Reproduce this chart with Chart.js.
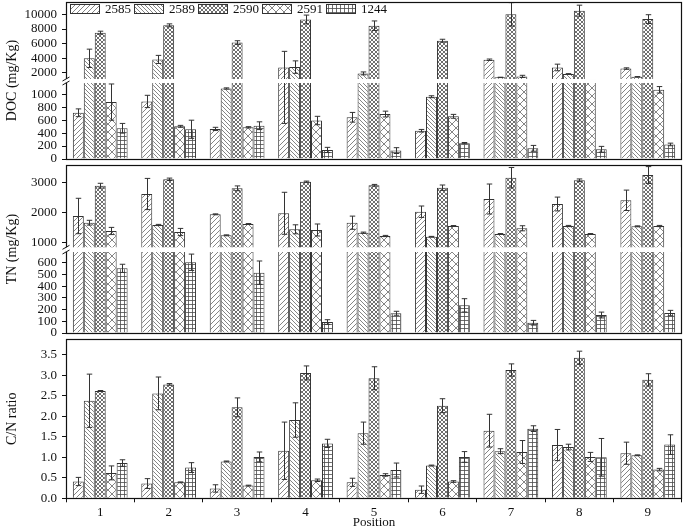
<!DOCTYPE html>
<html>
<head>
<meta charset="utf-8">
<script src="https://cdn.jsdelivr.net/npm/chart.js@4.4.1/dist/chart.umd.min.js"></script>
<style>
  html, body { margin: 0; padding: 0; background: #fff; }
  #wrap { position: relative; width: 685px; height: 528px; overflow: hidden; }
  canvas { position: absolute; left: 0; }
</style>
</head>
<body>
<div id="wrap">
  <canvas id="docChart" width="685" height="168" style="top:0px"></canvas>
  <canvas id="tnChart" width="685" height="182" style="top:160px"></canvas>
  <canvas id="cnChart" width="685" height="194" style="top:334px"></canvas>
</div>
<script>
/* DOC / TN / C-N by position, three stacked panels with broken y axes */

const positions = ['1', '2', '3', '4', '5', '6', '7', '8', '9'];
const series = ['2585', '2589', '2590', '2591', '1244'];

// one row per series, one column per position
const docMean = [
    [715, 890, 465, 2750, 645, 437, 3800, 2750, 2600],
    [4000, 3850, 1090, 2800, 1940, 963, 1400, 1850, 1475],
    [7500, 8500, 6150, 9300, 8450, 6400, 10000, 10500, 9350],
    [880, 505, 490, 595, 695, 660, 1530, 1180, 1070],
    [475, 460, 515, 140, 130, 245, 165, 150, 225]
];
const docErr = [
    [60, 95, 25, 2200, 75, 20, 100, 450, 100],
    [1250, 550, 10, 850, 200, 15, 20, 60, 30],
    [200, 200, 250, 600, 650, 200, 1600, 750, 600],
    [280, 15, 10, 65, 45, 30, 150, 0, 50],
    [75, 140, 60, 40, 45, 10, 45, 45, 20]
];

const tnMean = [
    [1877, 2610, 1933, 1967, 1653, 2020, 2443, 2277, 2400],
    [1653, 1577, 1233, 1433, 1320, 1187, 1277, 1543, 1533],
    [2887, 3100, 2800, 3020, 2900, 2820, 3153, 3067, 3243],
    [1377, 1343, 1610, 1410, 1210, 1543, 1467, 1277, 1543],
    [554, 606, 517, 94, 169, 237, 88, 154, 171]
];
const tnErr = [
    [590, 520, 15, 700, 220, 190, 500, 230, 340],
    [80, 20, 15, 150, 20, 10, 15, 20, 15],
    [80, 40, 80, 20, 30, 90, 340, 45, 280],
    [120, 120, 15, 200, 20, 15, 85, 15, 20],
    [35, 70, 100, 20, 17, 57, 20, 25, 23]
];

const cnMean = [
    [0.41, 0.36, 0.24, 1.16, 0.39, 0.21, 1.65, 1.30, 1.10],
    [2.38, 2.56, 0.90, 1.91, 1.59, 0.80, 1.15, 1.25, 1.05],
    [2.62, 2.78, 2.22, 3.06, 2.93, 2.26, 3.13, 3.43, 2.89],
    [0.62, 0.39, 0.31, 0.44, 0.57, 0.41, 1.13, 1.01, 0.70],
    [0.86, 0.75, 1.01, 1.34, 0.69, 1.01, 1.70, 1.00, 1.31]
];
const cnErr = [
    [0.10, 0.12, 0.09, 0.70, 0.10, 0.09, 0.40, 0.38, 0.27],
    [0.65, 0.40, 0.01, 0.42, 0.27, 0.01, 0.06, 0.07, 0.01],
    [0.01, 0.02, 0.23, 0.17, 0.28, 0.17, 0.15, 0.16, 0.15],
    [0.17, 0.01, 0.01, 0.03, 0.03, 0.02, 0.28, 0.11, 0.03],
    [0.08, 0.12, 0.12, 0.10, 0.17, 0.13, 0.07, 0.46, 0.24]
];

const docTicks = [0, 200, 400, 600, 800, 1000, 2000, 4000, 6000, 8000, 10000];
const tnTicks = [0, 100, 200, 300, 400, 500, 600, 1000, 2000, 3000];
const cnTicks = [0, 0.5, 1.0, 1.5, 2.0, 2.5, 3.0, 3.5];

const FONT = 'Liberation Serif';
const INK = '#111';
Chart.defaults.font.family = FONT;
Chart.defaults.color = INK;

// linear scale with a gap: [min, low] in the bottom part, [high, max] above it
class BrokenScale extends Chart.LinearScale {
    getPixelForValue(value) {
        const b = this.options.brk;
        let d;
        if (value <= b.low) {
            d = b.split * (value - this.min) / (b.low - this.min);
        } else if (value >= b.high) {
            d = b.split + b.gap + (1 - b.split - b.gap) * (value - b.high) / (this.max - b.high);
        } else {
            d = b.split + b.gap * (value - b.low) / (b.high - b.low);
        }
        return this.getPixelForDecimal(d);
    }
}
BrokenScale.id = 'broken';
BrokenScale.defaults = Chart.LinearScale.defaults;
Chart.register(BrokenScale);

function hatch(kind) {
    const s = kind === 'cross' ? 8 : kind === 'fwd' ? 5 : 4;
    const c = document.createElement('canvas');
    c.width = s; c.height = s;
    const g = c.getContext('2d');
    g.fillStyle = '#fff';
    g.fillRect(0, 0, s, s);
    g.strokeStyle = kind === 'fine' || kind === 'grid' ? '#4a4a4a' : '#666';
    g.lineWidth = 0.8;
    g.beginPath();
    if (kind === 'fwd' || kind === 'fine' || kind === 'cross') {
        g.moveTo(-1, s + 1); g.lineTo(s + 1, -1);
        g.moveTo(-1, 1); g.lineTo(1, -1);
        g.moveTo(s - 1, s + 1); g.lineTo(s + 1, s - 1);
    }
    if (kind === 'back' || kind === 'fine' || kind === 'cross') {
        g.moveTo(-1, -1); g.lineTo(s + 1, s + 1);
        g.moveTo(-1, s - 1); g.lineTo(1, s + 1);
        g.moveTo(s - 1, -1); g.lineTo(s + 1, 1);
    }
    if (kind === 'grid') {
        g.moveTo(0, 0.5); g.lineTo(s, 0.5);
        g.moveTo(0.5, 0); g.lineTo(0.5, s);
    }
    g.stroke();
    return g.createPattern(c, 'repeat');
}

const fills = [hatch('fwd'), hatch('back'), hatch('fine'), hatch('cross'), hatch('grid')];

const errorBars = {
    id: 'errorBars',
    afterDatasetsDraw(chart) {
        const ctx = chart.ctx;
        ctx.save();
        ctx.strokeStyle = '#333';
        ctx.lineWidth = 1;
        chart.data.datasets.forEach(function (ds, i) {
            const meta = chart.getDatasetMeta(i);
            const yScale = meta.vScale;
            meta.data.forEach(function (bar, j) {
                const e = ds.errors[j];
                if (!e) return;
                const v = ds.data[j];
                const x = Math.round(bar.x) + 0.5;
                const top = yScale.getPixelForValue(v + e);
                const bot = yScale.getPixelForValue(v - e);
                const cw = bar.width / 4;
                ctx.beginPath();
                ctx.moveTo(x, top); ctx.lineTo(x, bot);
                ctx.moveTo(x - cw, top); ctx.lineTo(x + cw, top);
                ctx.moveTo(x - cw, bot); ctx.lineTo(x + cw, bot);
                ctx.stroke();
            });
        });
        ctx.restore();
    }
};

const frame = {
    id: 'frame',
    afterDraw(chart) {
        const ctx = chart.ctx;
        const a = chart.chartArea;
        const l = Math.round(a.left) + 0.5, r = Math.round(a.right) - 0.5;
        const t = Math.round(a.top) + 0.5, b = Math.round(a.bottom) + 0.5;
        ctx.save();
        ctx.strokeStyle = INK;
        ctx.lineWidth = 1.2;
        ctx.strokeRect(l, t, r - l, b - t);
        const y = chart.scales.y;
        const brk = y.options.brk;
        if (brk) {
            const y1 = y.getPixelForDecimal(brk.split);
            const y2 = y.getPixelForDecimal(brk.split + brk.gap);
            ctx.fillStyle = '#fff';
            ctx.fillRect(l - 1, y2, r - l, y1 - y2);
            ctx.lineWidth = 1;
            ctx.beginPath();
            ctx.moveTo(l - 4, y1 + 2); ctx.lineTo(l + 3, y1 - 2);
            ctx.moveTo(l - 4, y2 + 2); ctx.lineTo(l + 3, y2 - 2);
            ctx.stroke();
        }
        ctx.restore();
    }
};

// horizontal legend drawn inside the top of the plot area
const insideLegend = {
    id: 'insideLegend',
    afterDraw(chart) {
        const ctx = chart.ctx;
        const a = chart.chartArea;
        ctx.save();
        ctx.font = '13px "' + FONT + '"';
        ctx.textBaseline = 'middle';
        chart.data.datasets.forEach(function (ds, i) {
            const x = a.left + 4 + i * 64;
            const y = a.top + 2;
            ctx.fillStyle = ds.backgroundColor;
            ctx.fillRect(x, y, 30, 10);
            ctx.strokeStyle = '#333';
            ctx.lineWidth = 1;
            ctx.strokeRect(x + 0.5, y + 0.5, 29, 9);
            ctx.fillStyle = INK;
            ctx.fillText(ds.label, x + 35, y + 5.5);
        });
        ctx.restore();
    }
};

function datasets(means, errs) {
    return series.map(function (name, i) {
        return {
            label: name,
            data: means[i],
            errors: errs[i],
            backgroundColor: fills[i],
            borderColor: '#333',
            borderWidth: 1,
            categoryPercentage: 0.8,
            barPercentage: 1.0
        };
    });
}

function noPad(s) {
    s.paddingTop = 0; s.paddingBottom = 0; s.paddingLeft = 0; s.paddingRight = 0;
}

function yAxis(type, title, ticks, min, max, fmt, extra) {
    const axis = {
        type: type,
        min: min,
        max: max,
        bounds: 'data',
        afterBuildTicks: function (s) { s.ticks = ticks.map(function (v) { return { value: v }; }); },
        afterFit: function (s) { s.width = 66; noPad(s); },
        border: { display: false },
        grid: { drawOnChartArea: false, tickLength: 4, color: INK },
        ticks: { autoSkip: false, padding: 5, color: INK, font: { size: 13 }, callback: fmt },
        title: { display: true, text: title, color: INK, font: { size: 14 }, padding: { top: 4, bottom: 0 } }
    };
    return Object.assign(axis, extra || {});
}

function makeChart(id, means, errs, y, padTop, padBottom, showX, extraPlugins) {
    const x = {
        display: showX,
        border: { display: false },
        grid: { offset: true, drawOnChartArea: false, tickLength: 4, color: INK },
        ticks: { padding: 2, color: INK, font: { size: 13 } },
        title: { display: true, text: 'Position', color: INK, font: { size: 13, lineHeight: 0.8 }, padding: { top: 0, bottom: 0 } }
    };
    if (showX) {
        x.afterFit = function (s) { s.height = 29.7; noPad(s); };
    }
    return new Chart(document.getElementById(id), {
        type: 'bar',
        data: { labels: positions, datasets: datasets(means, errs) },
        options: {
            responsive: false,
            animation: false,
            devicePixelRatio: 1,
            events: [],
            layout: { autoPadding: false, padding: { left: 0, right: 3, top: padTop, bottom: padBottom } },
            plugins: {
                tooltip: { enabled: false },
                legend: { display: false }
            },
            scales: { x: x, y: y }
        },
        plugins: [errorBars, frame].concat(extraPlugins || [])
    });
}

const plain = function (v) { return String(v); };
const oneDec = function (v) { return v.toFixed(1); };

makeChart('docChart', docMean, docErr,
    yAxis('broken', 'DOC (mg/Kg)', docTicks, 0, 11685, plain, { brk: { low: 1175, high: 1175, split: 0.484, gap: 0.0255 } }),
    2, 9, false, [insideLegend]);

makeChart('tnChart', tnMean, tnErr,
    yAxis('broken', 'TN (mg/Kg)', tnTicks, 0, 3567, plain, { brk: { low: 694, high: 833, split: 0.483, gap: 0.028 } }),
    5.3, 9, false);

makeChart('cnChart', cnMean, cnErr,
    yAxis('linear', 'C/N ratio', cnTicks, 0, 3.88, oneDec),
    5.3, 0, true);
</script>
</body>
</html>
